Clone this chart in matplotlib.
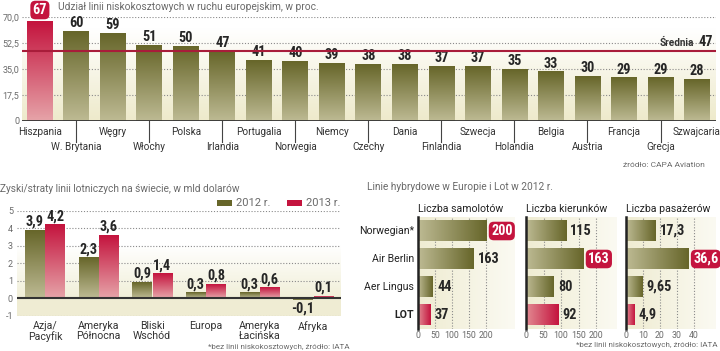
import numpy as np
import matplotlib
matplotlib.use('Agg')
import matplotlib.pyplot as plt
from matplotlib import font_manager
from matplotlib.colors import LinearSegmentedColormap
from matplotlib.patches import Rectangle

# --- dane ---
kraje = ['Hiszpania', 'W. Brytania', 'Węgry', 'Włochy', 'Polska', 'Irlandia',
         'Portugalia', 'Norwegia', 'Niemcy', 'Czechy', 'Dania', 'Finlandia',
         'Szwecja', 'Holandia', 'Belgia', 'Austria', 'Francja', 'Grecja', 'Szwajcaria']
udzial = [67, 60, 59, 51, 50, 47, 41, 40, 39, 38, 38, 37, 37, 35, 33, 30, 29, 29, 28]
srednia = 47
top_ticks = [0, 17.5, 35, 52.5, 70]

regiony = ['Azja/\nPacyfik', 'Ameryka\nPółnocna', 'Bliski\nWschód', 'Europa',
           'Ameryka\nŁacińska', 'Afryka']
zysk_2012 = [3.9, 2.3, 0.9, 0.3, 0.3, -0.1]
zysk_2013 = [4.2, 3.6, 1.4, 0.8, 0.6, 0.1]
zysk_ticks = [-1, 0, 1, 2, 3, 4, 5]

linie = ['Norwegian*', 'Air Berlin', 'Aer Lingus', 'LOT']
samoloty = [200, 163, 44, 37]
kierunki = [115, 163, 80, 92]
pasazerowie = [17.3, 36.6, 9.65, 4.9]

W, H = 720, 351
OLIVE_D, OLIVE_L = '#67662a', '#bdba93'
RED_D, RED_L = '#c4143e', '#e6a3a8'
CREAM = '#eeeacb'
DARK = '#262626'
GRAY = '#6a6a6a'

# waski krój do liczb, jesli jest
dostepne = {f.name for f in font_manager.fontManager.ttflist}
narrow = next((n for n in ['Liberation Sans Narrow', 'DejaVu Sans Condensed', 'Roboto Condensed',
                           'Open Sans Condensed'] if n in dostepne), None)
NUM = [narrow, 'DejaVu Sans'] if narrow else ['Roboto', 'DejaVu Sans']
NUMSZ = 10.3 if narrow else 8.5
plt.rcParams['font.family'] = ['Roboto', 'DejaVu Sans']

fig = plt.figure(figsize=(W / 100, H / 100), dpi=100)


def px_axes(l, t, r, b):
    return fig.add_axes([l / W, 1 - b / H, (r - l) / W, (b - t) / H])


def ftext(x, y, s, **kw):
    return fig.text(x / W, 1 - y / H, s, **kw)


def pl(v):
    return f'{v:g}'.replace('.', ',')


def gbar(ax, bar, c1, c2, horiz=False):
    x0, y0 = bar.get_x(), bar.get_y()
    w, h = bar.get_width(), bar.get_height()
    cm = LinearSegmentedColormap.from_list('g', [c1, c2])
    g = np.linspace(0, 1, 100)
    arr = g.reshape(1, -1) if horiz else g.reshape(-1, 1)
    ax.imshow(arr, cmap=cm, extent=(x0, x0 + w, y0, y0 + h), origin='lower',
              aspect='auto', zorder=2, interpolation='bilinear')
    bar.set_visible(False)


def bgrad(ax, extent, c1, c2, horiz=False):
    cm = LinearSegmentedColormap.from_list('b', [c1, c2])
    g = np.linspace(0, 1, 100)
    arr = g.reshape(1, -1) if horiz else g.reshape(-1, 1)
    ax.imshow(arr, cmap=cm, extent=extent, origin='lower', aspect='auto',
              zorder=0, interpolation='bilinear')


redbox = dict(boxstyle='round,pad=0.16,rounding_size=0.35', fc=RED_D, ec='none')

# --- wykres 1: udzial ---
ax = px_axes(22, 17, 716, 121)
x = np.arange(len(kraje))
xl = (-0.49, 18.52)
bgrad(ax, (xl[0], xl[1], 0, 62), CREAM, '#ffffff')
for t in top_ticks[1:]:
    ax.axhline(t, color='#8a8a8a', lw=0.8, ls=(0, (1, 1.6)), zorder=1)
bars = ax.bar(x, udzial, width=0.71)
for i, b in enumerate(bars):
    if i == 0:
        gbar(ax, b, RED_L, RED_D)
        ax.annotate(pl(udzial[i]), (i, udzial[i]), xytext=(0, 3.2), textcoords='offset points',
                    ha='center', va='bottom', fontsize=NUMSZ, fontweight='bold', color='white',
                    family=NUM, bbox=redbox)
    else:
        gbar(ax, b, OLIVE_L, OLIVE_D)
        ax.annotate(pl(udzial[i]), (i, udzial[i]), xytext=(0, 1.0), textcoords='offset points',
                    ha='center', va='bottom', fontsize=NUMSZ, fontweight='bold', color=DARK,
                    family=NUM)
ax.axhline(srednia, color='#a81c3a', lw=1.5, zorder=3)
ax.axhline(0, color='#333333', lw=1.3, zorder=3)
ax.text(18.45, srednia + 1.5, pl(srednia), ha='right', va='bottom', fontsize=NUMSZ,
        fontweight='bold', color=DARK, family=NUM)
ax.text(17.93, srednia + 1.8, 'Średnia', ha='right', va='bottom', fontsize=7.2,
        fontweight='bold', color='#333333')
ax.set_xlim(xl)
ax.set_ylim(0, 70)
ax.set_yticks(top_ticks)
ax.set_yticklabels(['0' if t == 0 else f'{t:.1f}'.replace('.', ',') for t in top_ticks],
                   fontsize=6.5, color=GRAY)
ax.tick_params(axis='y', length=0, pad=2)
ax.set_xticks([])
for s in ax.spines.values():
    s.set_visible(False)
for i, k in enumerate(kraje):
    if i % 2 == 0:
        ax.text(i, -7.5, k, ha='center', va='center', fontsize=7.2, color='#333333')
    else:
        ax.text(i, -17.5, k, ha='center', va='center', fontsize=7.2, color='#333333')
        ax.plot([i, i], [0, -0.205], transform=ax.get_xaxis_transform(), color='#444444',
                lw=0.8, clip_on=False)
ftext(58, 7, 'Udział linii niskokosztowych w ruchu europejskim, w proc.', fontsize=7.3,
      color=GRAY, va='center')
ftext(705, 165, 'źródło: CAPA Aviation', fontsize=6, color=GRAY, ha='right', va='center')

# --- wykres 2: zyski/straty ---
ax2 = px_axes(17, 211, 341, 315.5)
g = np.arange(len(regiony))
xl2 = (-0.52, 5.52)
ax2.axhspan(-1, 0, color='#efecd3', zorder=0, lw=0)
bgrad(ax2, (xl2[0], xl2[1], 0, 3), '#f1efd8', '#ffffff')
for t in zysk_ticks:
    if t != 0:
        ax2.axhline(t, color='#8a8a8a', lw=0.8, ls=(0, (1, 1.6)), zorder=1)
w = 0.36
b12 = ax2.bar(g - 0.19, zysk_2012, width=w)
b13 = ax2.bar(g + 0.19, zysk_2013, width=w)
for bars, vals, cols in [(b12, zysk_2012, (OLIVE_L, OLIVE_D)), (b13, zysk_2013, (RED_L, RED_D))]:
    for b, v in zip(bars, vals):
        gbar(ax2, b, *cols)
        xc = b.get_x() + b.get_width() / 2
        if v >= 0:
            ax2.annotate(pl(v), (xc, v), xytext=(0, 1.0), textcoords='offset points',
                         ha='center', va='bottom', fontsize=NUMSZ, fontweight='bold',
                         color=DARK, family=NUM)
        else:
            ax2.annotate(pl(v), (xc, v), xytext=(0, -1), textcoords='offset points',
                         ha='center', va='top', fontsize=NUMSZ, fontweight='bold',
                         color=DARK, family=NUM)
ax2.axhline(0, color='#333333', lw=1.5, zorder=3)
ax2.set_xlim(xl2)
ax2.set_ylim(-1, 5)
ax2.set_yticks(zysk_ticks)
ax2.set_yticklabels([str(t) for t in zysk_ticks], fontsize=6.5, color=GRAY)
ax2.tick_params(axis='y', length=0, pad=3)
ax2.set_xticks(g)
ax2.set_xticklabels(regiony, fontsize=7.6, color='#333333', linespacing=1.0)
ax2.tick_params(axis='x', length=0, pad=4)
for s in ax2.spines.values():
    s.set_visible(False)
ftext(0, 189, 'Zyski/straty linii lotniczych na świecie, w mld dolarów', fontsize=7.3,
      color=GRAY, va='center')
for x0, c, lab in [(217, OLIVE_D, '2012 r.'), (287, RED_D, '2013 r.')]:
    fig.patches.append(Rectangle((x0 / W, 1 - 206 / H), 15 / W, 6 / H, transform=fig.transFigure,
                                 fc=c, ec='none'))
    ftext(x0 + 19, 203, lab, fontsize=8, color=GRAY, va='center')
ftext(350, 347, '*bez linii niskokosztowych, źródło: IATA', fontsize=5.8, color=GRAY,
      ha='right', va='center')

# --- wykres 3: linie hybrydowe ---
ftext(367, 187, 'Linie hybrydowe w Europie i Lot w 2012 r.', fontsize=7.3, color=GRAY,
      va='center')
panele = [
    (418, 515, samoloty, 285, [0, 50, 100, 150, 200], 'Liczba samolotów'),
    (526, 617, kierunki, 260, [0, 50, 100, 150, 200], 'Liczba kierunków'),
    (626, 716, pasazerowie, 53, [0, 10, 20, 30, 40], 'Liczba pasażerów'),
]
rows = np.arange(len(linie))
for k, (l, r, vals, xmax, ticks, tytul) in enumerate(panele):
    axp = px_axes(l, 217, r, 329)
    bgrad(axp, (0, xmax, -0.5, 3.5), '#efecd2', '#fbfaf2', horiz=True)
    for t in ticks[1:]:
        axp.axvline(t, color='#8a8a8a', lw=0.8, ls=(0, (1, 1.6)), zorder=1)
    bars = axp.barh(rows, vals, height=0.72)
    imax = int(np.argmax(vals))
    for i, b in enumerate(bars):
        if linie[i] == 'LOT':
            gbar(axp, b, '#e28a92', RED_D, horiz=True)
        else:
            gbar(axp, b, OLIVE_L, OLIVE_D, horiz=True)
        if i == imax:
            axp.annotate(pl(vals[i]), (vals[i], i), xytext=(3.6, 0), textcoords='offset points',
                         ha='left', va='center', fontsize=NUMSZ, fontweight='bold', color='white',
                         family=NUM, bbox=redbox, annotation_clip=False)
        else:
            axp.annotate(pl(vals[i]), (vals[i], i), xytext=(3.0, 0), textcoords='offset points',
                         ha='left', va='center', fontsize=NUMSZ, fontweight='bold', color=DARK,
                         family=NUM, annotation_clip=False)
    axp.set_xlim(0, xmax)
    axp.set_ylim(3.5, -0.5)
    axp.set_xticks(ticks)
    axp.set_xticklabels([str(t) for t in ticks], fontsize=6.3, color=GRAY)
    axp.tick_params(axis='x', length=0, pad=1.5)
    axp.set_yticks([])
    for s in ['top', 'right', 'bottom']:
        axp.spines[s].set_visible(False)
    axp.spines['left'].set_color('#222222')
    axp.spines['left'].set_linewidth(1.8)
    axp.spines['left'].set_zorder(4)
    ftext(l, 209, tytul, fontsize=7.6, color='#222222', va='center')
    if k == 0:
        for i, n in enumerate(linie):
            axp.text(-0.04, i, n, transform=axp.get_yaxis_transform(), ha='right', va='center',
                     fontsize=7.6, color='#222222',
                     fontweight='bold' if n == 'LOT' else 'normal')
ftext(718, 345, '*bez linii niskokosztowych, źródło: IATA', fontsize=5.8, color=GRAY,
      ha='right', va='center')

fig.savefig('out.png', dpi=100)
